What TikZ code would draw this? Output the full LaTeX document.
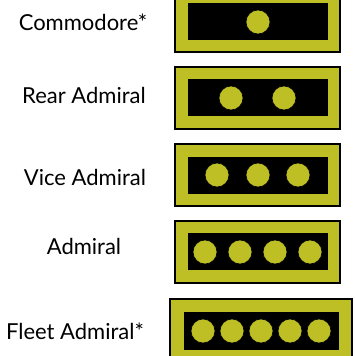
\documentclass[tikz,border=0pt]{standalone}
\usepackage{fontspec}
\setmainfont{Lato}
\definecolor{braid}{HTML}{BDBF24}
\tikzset{
  rank/.style={font=\fontsize{22}{24}\selectfont, inner sep=0pt},
  sleeve/.style={draw=black, line width=2pt, fill=braid, inner sep=0pt,
    minimum width=165pt, minimum height=62pt},
  stripe/.style={fill=black, inner sep=0pt, minimum width=140pt, minimum height=37pt},
  pip/.style={fill=braid, draw=black, line width=0.6pt}
}
\begin{document}
\begin{tikzpicture}[x=1pt,y=-1pt]
    \useasboundingbox (0,0) rectangle (354,356);
    \clip (0,0) rectangle (354,356);
    % labels
    \node[rank] (commodore) at (83,22) {Commodore*};
    \node[rank] (rear) at (84,95) {Rear Admiral};
    \node[rank] (vice) at (85,177) {Vice Admiral};
    \node[rank] (admiral) at (84,246) {Admiral};
    \node[rank] (fleet) at (75,331) {Fleet Admiral*};
    % sleeves
    \node[sleeve] (sleeveA) at (257.5,21) {};
    \node[stripe] (stripeA) at (sleeveA) {};
    \filldraw[pip] (258,22) circle (12pt);
    \node[sleeve] (sleeveB) at (257.5,97.5) {};
    \node[stripe] (stripeB) at (sleeveB) {};
    \foreach \x in {231,284}
      \filldraw[pip] (\x,98) circle (12pt);
    \node[sleeve] (sleeveC) at (257.5,175) {};
    \node[stripe] (stripeC) at (sleeveC) {};
    \foreach \x in {217,258,298}
      \filldraw[pip] (\x,175) circle (12pt);
    \node[sleeve] (sleeveD) at (257.5,251.5) {};
    \node[stripe] (stripeD) at (sleeveD) {};
    \foreach \x in {205,240,275,310}
      \filldraw[pip] (\x,252) circle (12pt);
    \node[sleeve, minimum width=182pt, minimum height=64pt] (sleeveE) at (261,331) {};
    \node[stripe, minimum width=155pt, minimum height=38pt] (stripeE) at (sleeveE) {};
    \foreach \x in {203,232,261,290,319}
      \filldraw[pip] (\x,331) circle (12pt);
\end{tikzpicture}
\end{document}
